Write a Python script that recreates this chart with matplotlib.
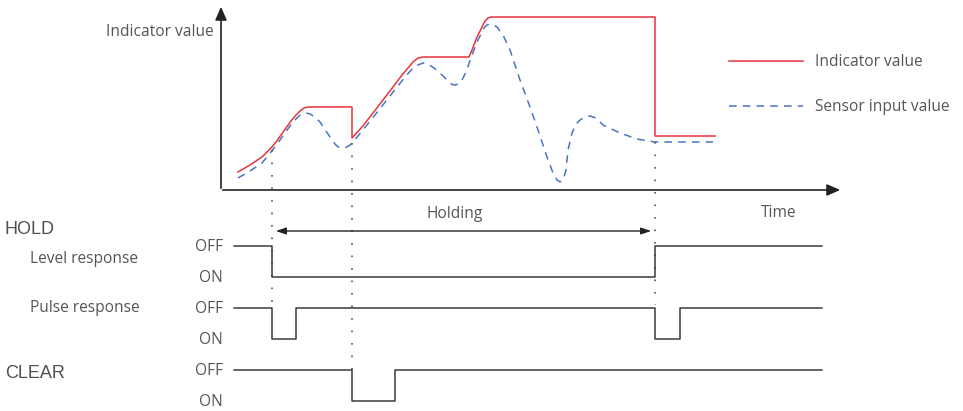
import numpy as np
import matplotlib.pyplot as plt

# Indicator (red) and sensor (blue) curves (x = time px, y = px from top)
ind_t = [238, 250, 262, 271, 276, 281, 286, 291, 296, 300, 304, 308, 352, 352, 362, 373, 383, 393,
         402, 408, 413, 418, 423, 469, 472, 477, 482, 485, 488, 491, 655, 655, 715]
ind_v = [172, 165, 157, 148, 142, 135, 128, 121, 115, 111, 108, 107, 107, 138, 127, 113, 100, 87,
         75, 68, 62, 58, 57, 57, 50, 37, 27, 21, 18, 17, 17, 136, 136]

sen_t = [238, 250, 262, 271, 280, 290, 296, 300, 303, 306, 310, 315, 320, 328, 335, 338, 342, 346,
         350, 353, 362, 375, 390, 405, 413, 418, 423, 428, 434, 442, 448, 452, 455, 458, 462, 466,
         472, 478, 484, 487, 490, 493, 497, 503, 510, 520, 530, 537, 547, 553, 557, 560, 563, 566,
         568, 572, 576, 580, 585, 590, 596, 603, 620, 637, 655, 713]
sen_v = [178, 171, 163, 152, 140, 126, 119, 115, 113.5, 113, 114, 117, 122, 134, 144, 147, 148, 147.5,
         145, 142, 131, 115, 96, 77, 68, 65, 63, 64, 68, 75, 81, 84.5, 85, 84, 80, 72,
         55, 40, 28, 25, 24, 25, 27, 35, 50, 80, 107, 127, 157, 173, 180, 182, 180, 170,
         150, 133, 124, 120, 117, 116, 118, 125, 133, 139, 142, 142]

# Switching signals: (time, level) with level 0 = OFF, 1 = ON
level_t = [234, 272, 272, 655, 655, 822]
level_s = [0, 0, 1, 1, 0, 0]
pulse_t = [234, 272, 272, 296, 296, 655, 655, 680, 680, 822]
pulse_s = [0, 0, 1, 1, 0, 0, 1, 1, 0, 0]
clear_t = [234, 352, 352, 395, 395, 822]
clear_s = [0, 0, 1, 1, 0, 0]

off_y = {'level': 246, 'pulse': 308, 'clear': 370}
on_drop = 31

fig = plt.figure(figsize=(9.63, 4.11), dpi=100)
ax = fig.add_axes([0, 0, 1, 1])
ax.set_xlim(0, 963)
ax.set_ylim(411, 0)
ax.axis('off')

txt = dict(family='Open Sans', color='#555555', fontsize=11.2)
line = '#3a3a3a'

# axes of the upper chart
ax.annotate('', xy=(221, 4), xytext=(221, 191),
            arrowprops=dict(arrowstyle='-|>,head_length=0.8,head_width=0.35', color='#222222', lw=1.2))
ax.annotate('', xy=(843, 190), xytext=(220, 190),
            arrowprops=dict(arrowstyle='-|>,head_length=0.8,head_width=0.35', color='#222222', lw=1.2))
ax.text(214, 32, 'Indicator value', ha='right', va='center', **txt)
ax.text(779, 213, 'Time', ha='center', va='center', **txt)

ax.plot(ind_t, ind_v, color='#e8333c', lw=1.1)
ax.plot(sen_t, sen_v, color='#4a74c4', lw=1.1, ls=(0, (5, 4)))

# legend
ax.plot([729, 803], [61, 61], color='#e8333c', lw=1.1)
ax.plot([729, 803], [106, 106], color='#4a74c4', lw=1.1, ls=(0, (5, 4)))
ax.text(815, 62, 'Indicator value', ha='left', va='center', **txt)
ax.text(815, 107, 'Sensor input value', ha='left', va='center', **txt)

# dotted guides
for x0, y0, y1 in [(272, 150, 305), (352, 143, 372), (655, 142, 305)]:
    ax.plot([x0, x0], [y0, y1], color='#555555', lw=1.2, ls=(0, (1, 6.5)))

# holding arrow
ax.annotate('', xy=(273, 231), xytext=(654, 231),
            arrowprops=dict(arrowstyle='<|-|>,head_length=0.6,head_width=0.2', color='#222222', lw=1))
ax.text(455, 214, 'Holding', ha='center', va='center', **txt)

# signals
for key, t, s in [('level', level_t, level_s), ('pulse', pulse_t, pulse_s), ('clear', clear_t, clear_s)]:
    ys = [off_y[key] + on_drop * v for v in s]
    ax.plot(t, ys, color=line, lw=1.1)
    ax.text(223, off_y[key] + 1, 'OFF', ha='right', va='center', **txt)
    ax.text(223, off_y[key] + on_drop + 1, 'ON', ha='right', va='center', **txt)

big = dict(family='Liberation Sans', color='#505050', fontsize=13)
ax.text(5, 229, 'HOLD', ha='left', va='center', **big)
ax.text(5, 373, 'CLEAR', ha='left', va='center', **big)
ax.text(30, 259, 'Level response', ha='left', va='center', **txt)
ax.text(30, 308, 'Pulse response', ha='left', va='center', **txt)

fig.savefig('out.png', dpi=100)
